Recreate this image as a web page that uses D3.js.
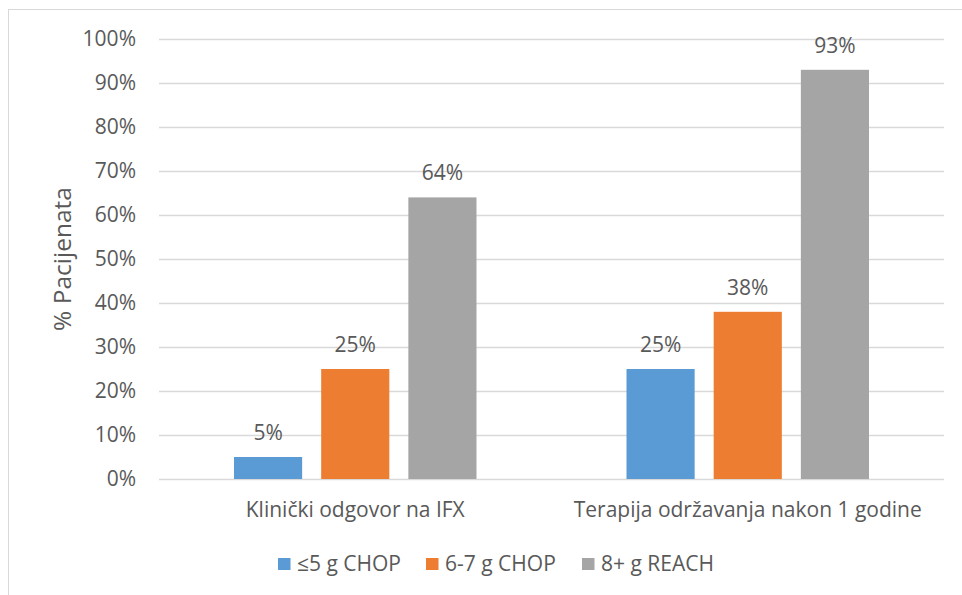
<!DOCTYPE html>
<html><head><meta charset="utf-8">
<script src="https://cdn.jsdelivr.net/npm/d3@7"></script>
<style>body{margin:0;background:#fff;} text{font-family:"Open Sans",sans-serif;fill:#595959;}</style>
</head><body>
<svg id="c" width="962" height="595"></svg>
<script>
const categories = ["Klinički odgovor na IFX", "Terapija održavanja nakon 1 godine"];
const seriesNames = ["≤5 g CHOP", "6-7 g CHOP", "8+ g REACH"];
const seriesValues = [
  [5, 25],
  [25, 38],
  [64, 93]
];
const yTicks = [0,10,20,30,40,50,60,70,80,90,100];
const colors = ["#5B9BD5", "#ED7D31", "#A5A5A5"];

const FS = "21px";
const svg = d3.select("#c");
svg.append("rect").attr("x",8.5).attr("y",9.5).attr("width",1000).attr("height",1000)
  .attr("fill","none").attr("stroke","#D9D9D9").attr("stroke-width",1);

const L=159, R=944, T=39, B=479;
const x0 = d3.scaleBand().domain(categories).range([L,R]).paddingInner(0).paddingOuter(0);
const innerPad = 75;
const x1 = d3.scaleBand().domain(d3.range(seriesNames.length))
  .range([innerPad, x0.bandwidth()-innerPad]).paddingInner(19/87).paddingOuter(0);
const y = d3.scaleLinear().domain([0,100]).range([B,T]);

svg.append("g").selectAll("line").data(yTicks).join("line")
  .attr("x1",L).attr("x2",R).attr("y1",d=>Math.round(y(d))+0.5).attr("y2",d=>Math.round(y(d))+0.5)
  .attr("stroke","#D9D9D9").attr("stroke-width",1.3);

const yAxis = d3.axisLeft(y).tickValues(yTicks).tickFormat(d=>d+"%").tickSize(0).tickPadding(0);
const ya = svg.append("g").attr("transform",`translate(136,0)`).call(yAxis);
ya.select(".domain").remove();
ya.selectAll("text").attr("font-size",FS).attr("fill","#595959").attr("font-family","Open Sans");

const rows = [];
categories.forEach((c,ci)=>seriesNames.forEach((s,si)=>rows.push({c,si,v:seriesValues[si][ci]})));
svg.append("g").selectAll("rect").data(rows).join("rect")
  .attr("x",d=>x0(d.c)+x1(d.si)).attr("width",x1.bandwidth())
  .attr("y",d=>y(d.v)).attr("height",d=>B-y(d.v)).attr("fill",d=>colors[d.si]);

svg.append("g").selectAll("text").data(rows).join("text")
  .attr("x",d=>x0(d.c)+x1(d.si)+x1.bandwidth()/2).attr("y",d=>y(d.v)-17)
  .attr("text-anchor","middle").attr("font-size",FS).text(d=>d.v+"%");

const xAxis = d3.axisBottom(x0).tickSize(0).tickPadding(0);
const xa = svg.append("g").attr("transform",`translate(0,${B})`).call(xAxis);
xa.select(".domain").remove();
xa.selectAll("text").attr("font-size",FS).attr("fill","#595959").attr("font-family","Open Sans")
  .attr("dy",null).attr("y",38);

svg.append("text").attr("transform","translate(71,259) rotate(-90)").attr("text-anchor","middle")
  .attr("font-size","24.5px").text("% Pacijenata");

const legX = [278, 426, 582];
const lg = svg.append("g").selectAll("g").data(seriesNames).join("g")
  .attr("transform",(d,i)=>`translate(${legX[i]},558)`);
lg.append("rect").attr("width",12.5).attr("height",12).attr("fill",(d,i)=>colors[i]);
lg.append("text").attr("x",19).attr("y",12.5).attr("font-size",FS).text(d=>d);
</script>
</body></html>
